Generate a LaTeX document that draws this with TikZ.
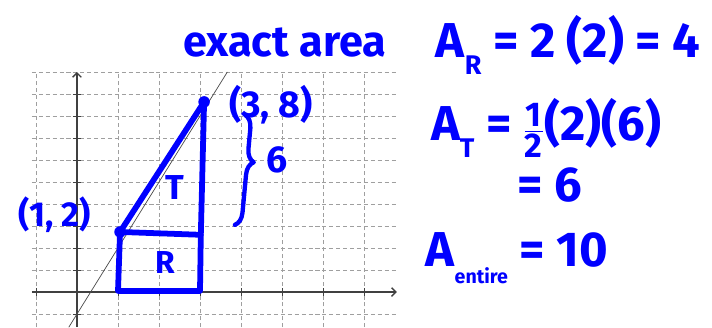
\documentclass[tikz,border=0pt]{standalone}
\usepackage{amsmath}
\usepackage{fontspec}
\usepackage{tikz}
\usetikzlibrary{arrows.meta, decorations.pathreplacing}
\newfontfamily\hand{Fira Sans}
\newcommand{\lowsub}[2][0.55]{\raisebox{-0.35em}{\scalebox{#1}{#2}}}

\begin{document}
\begin{tikzpicture}[x=1cm, y=0.5366cm,
    gridline/.style={gray!75, line width=0.6pt, dash pattern=on 2.8pt off 2pt},
    axisline/.style={black!75, line width=0.9pt, -{Straight Barb[length=3pt,width=6pt]}},
    ink/.style={blue, line width=4pt, line cap=round, line join=round},
    inktext/.style={blue, font=\hand\bfseries\fontsize{#1}{#1}\selectfont}]
    \useasboundingbox (-1.878,-1.591) rectangle (15.488,13.273);
    % grid and axes
    \foreach \i in {-1,...,7} \draw[gridline] (\i,-1.6) -- (\i,10);
    \foreach \j in {-1,...,10} \draw[gridline] (-1.1,\j) -- (7.8,\j);
    \draw[axisline] (-1.1,0) -- (7.8,0);
    \draw[axisline] (0,-1.6) -- (0,10);
    \foreach \i in {-1,...,7} \draw[black!75] (\i,-0.18) -- (\i,0.18);
    \foreach \j in {-1,...,9} \draw[black!75] (-0.1,\j) -- (0.1,\j);
    \draw[black!70, line width=0.5pt] (-0.2,-1.6) -- (3.667,10);
    % the two pieces
    \coordinate (P) at (1.05,2.73);
    \coordinate (Q) at (3.1,8.64);
    \coordinate (M) at (3.02,2.6);
    \coordinate (C) at (3.0,0.05);
    \coordinate (B) at (1.0,0.05);
    \draw[ink] (Q) -- (P) -- (M);
    \draw[ink] (Q) -- (M) -- (C) -- (B) -- (P);
    \fill[blue] (P) circle (4pt);
    \fill[blue] (Q) circle (4pt);
    \coordinate (braceTop) at (4.1,8.05);
    \coordinate (braceBot) at (3.85,3.05);
    \draw[ink, line width=3pt, decorate, decoration={brace, amplitude=9pt, aspect=0.42}] (braceTop) -- (braceBot);
    % labels
    \node[inktext=26] (ptQ) at (4.73,8.5) {(3, 8)};
    \node[inktext=24] (ptP) at (-0.54,3.5) {(1, 2)};
    \node[inktext=26] (six) at (4.88,6.0) {6};
    \node[inktext=24] (labT) at (2.39,4.73) {T};
    \node[inktext=22] (labR) at (2.15,1.36) {R};
    \node[inktext=30] (exact) at (5.07,11.36) {exact area};
    % areas
    \node[inktext=34] (areaR) at (11.98,11.23) {A\lowsub{R} = 2 (2) = 4};
    \node[inktext=34] (areaT) at (11.44,7.45) {A\lowsub{T} = $\frac{\text{1}}{\text{2}}$(2)(6)};
    \node[inktext=34] (eqsix) at (11.54,4.86) {= 6};
    \node[inktext=34] (areaE) at (10.73,1.55) {A\lowsub[0.4]{entire} = 10};
\end{tikzpicture}
\end{document}
